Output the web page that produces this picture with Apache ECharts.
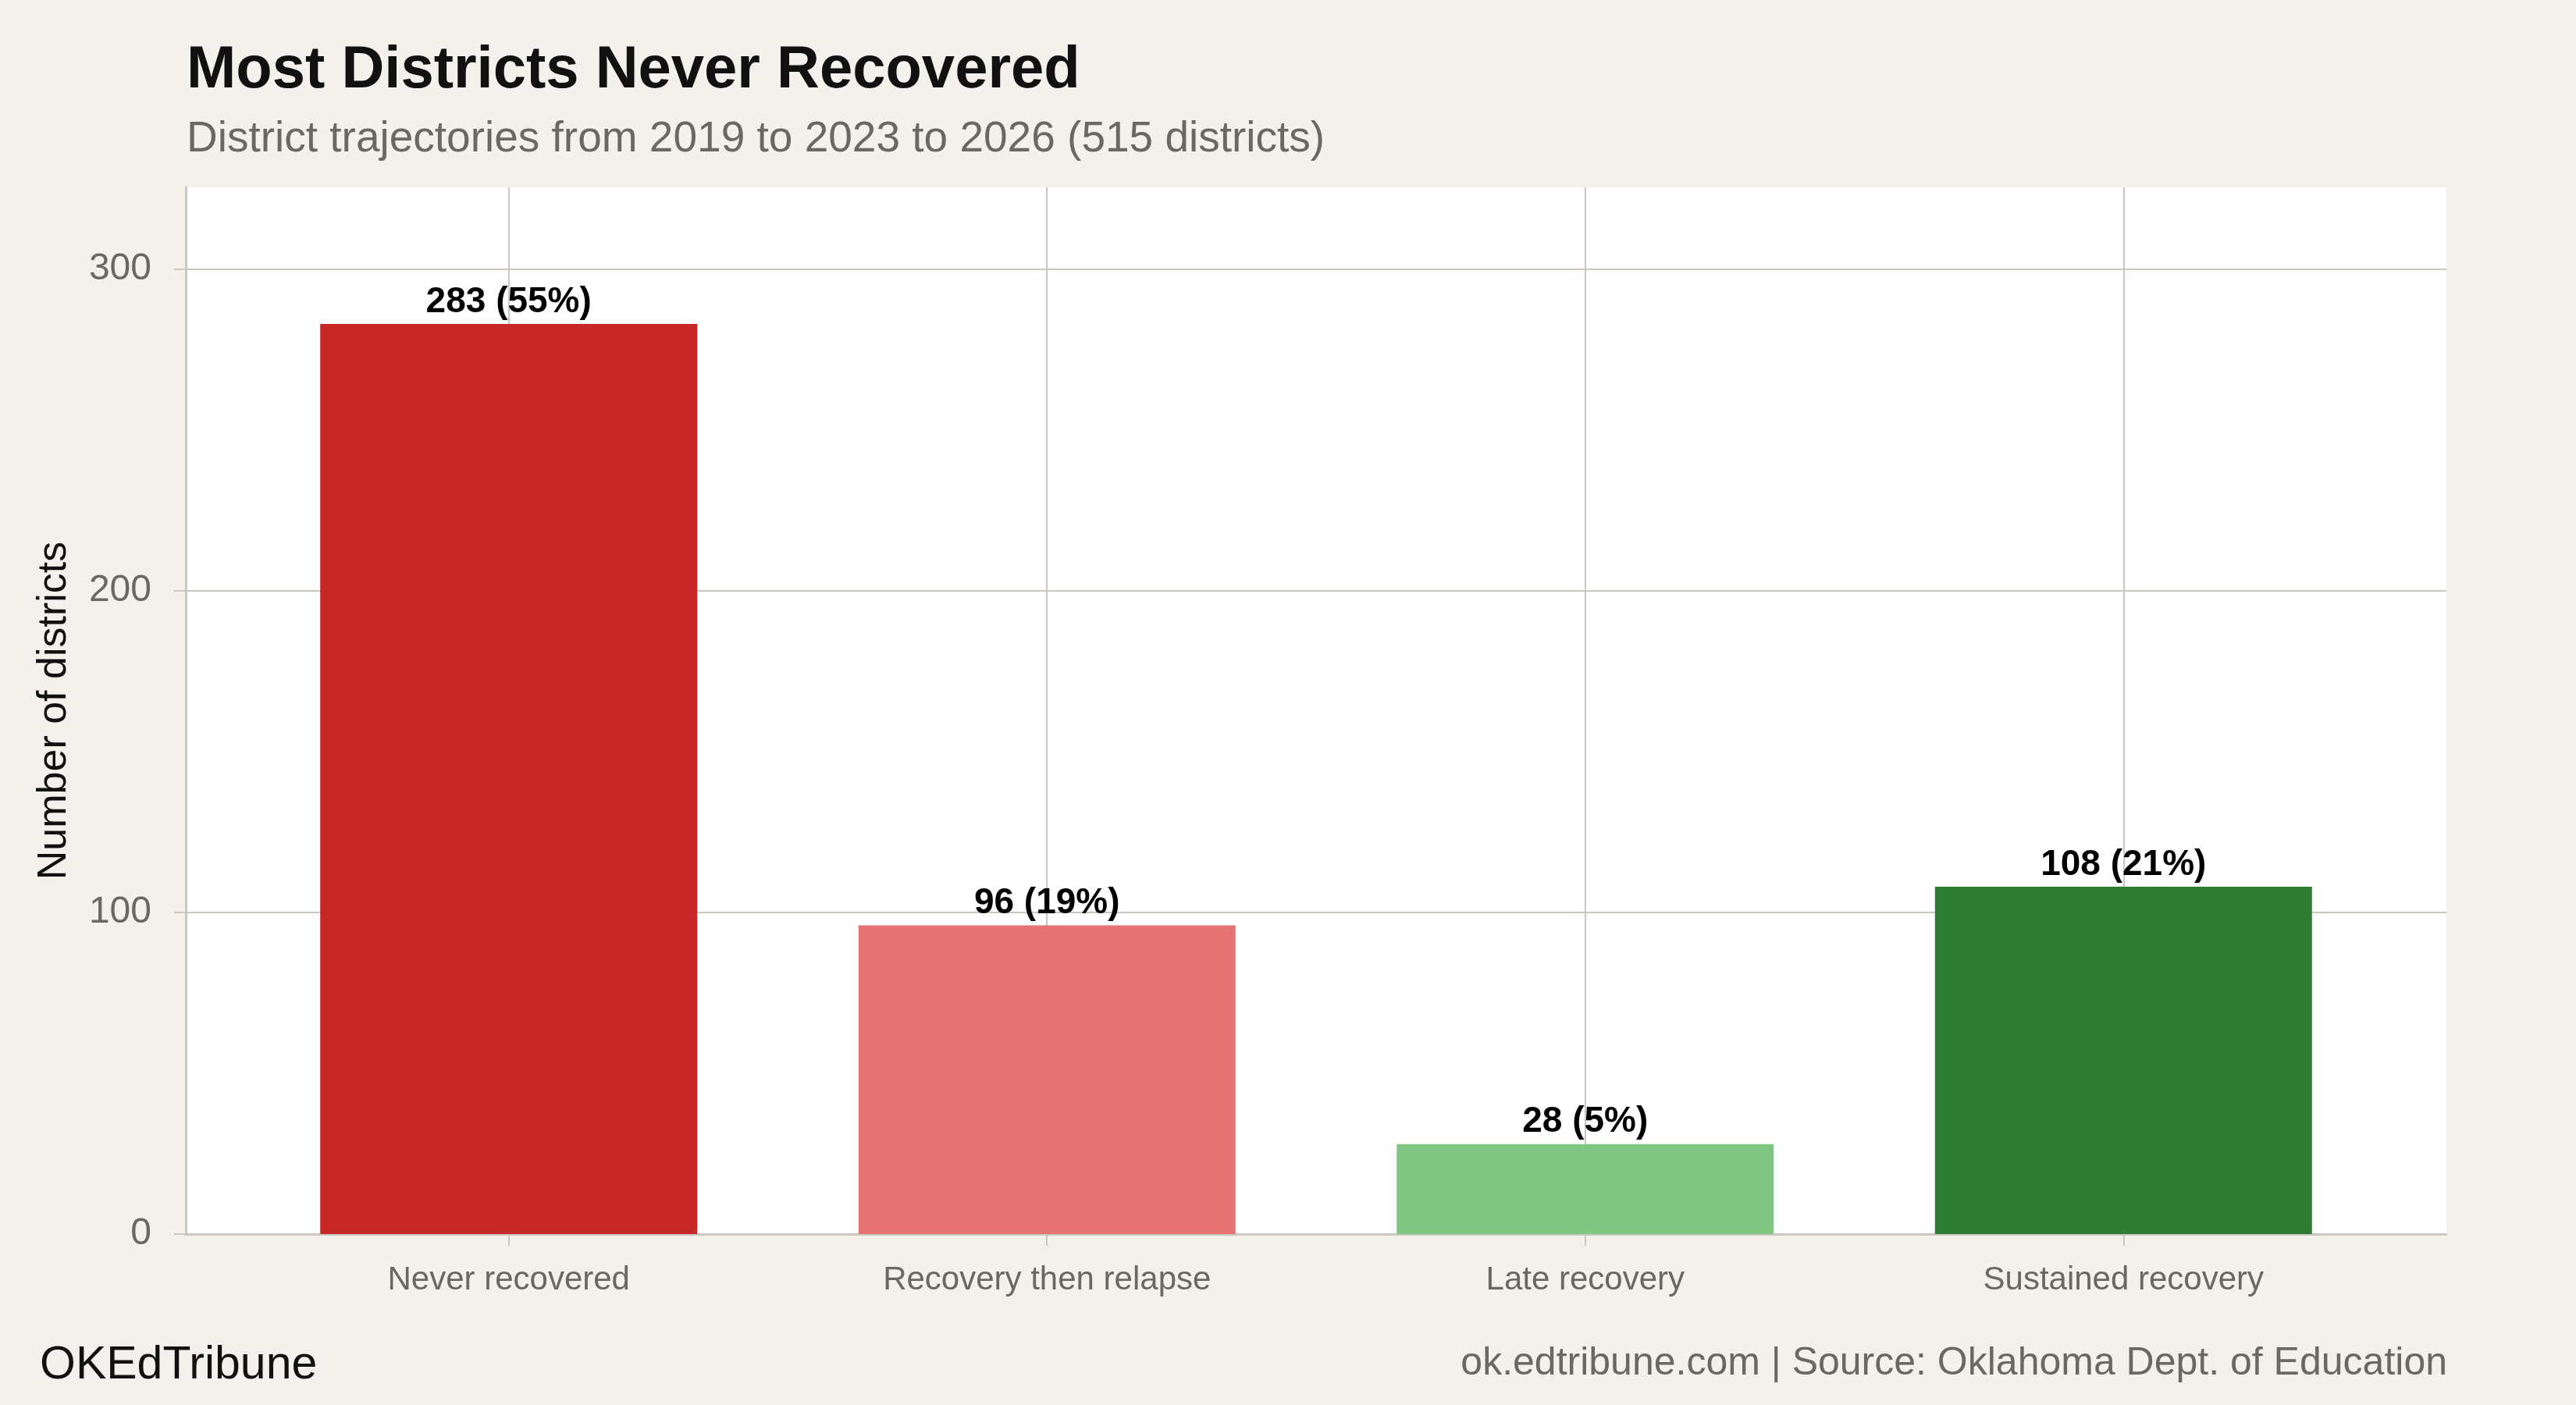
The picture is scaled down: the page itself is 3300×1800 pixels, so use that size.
<!DOCTYPE html>
<html>
<head>
<meta charset="utf-8">
<script src="https://cdn.jsdelivr.net/npm/echarts@6/dist/echarts.min.js"></script>
<style>
html,body{margin:0;padding:0;background:#F4F1EC;}
#chart{width:3300px;height:1800px;}
</style>
</head>
<body>
<div id="chart"></div>
<script>
const categories = ['Never recovered', 'Recovery then relapse', 'Late recovery', 'Sustained recovery'];
const counts = [283, 96, 28, 108];
const percents = [55, 19, 5, 21];
const barColors = ['#C62828', '#E57373', '#81C784', '#2E7D32'];
const yTicks = [0, 100, 200, 300];

const FONT = '"Liberation Sans", Arial, Helvetica, sans-serif';
const GRID_COLOR = '#CCC7BE';

const chart = echarts.init(document.getElementById('chart'), null, {renderer: 'canvas'});

const positions = categories.map((c, i) => i + 1);
const seriesData = counts.map((v, i) => ({
  value: [positions[i], v],
  itemStyle: {color: barColors[i]},
  label: {formatter: v + ' (' + percents[i] + '%)'}
}));

const option = {
  backgroundColor: '#F4F1EC',
  animation: false,
  title: [
    {
      text: 'Most Districts Never Recovered',
      subtext: 'District trajectories from 2019 to 2023 to 2026 (515 districts)',
      left: 234,
      top: 48,
      itemGap: 22,
      textStyle: {fontFamily: FONT, fontSize: 76, fontWeight: 'bold', color: '#111111'},
      subtextStyle: {fontFamily: FONT, fontSize: 55, color: '#6B6761'}
    },
    {
      text: 'OKEdTribune',
      left: 46,
      top: 1715,
      textStyle: {fontFamily: FONT, fontSize: 59, fontWeight: 'normal', color: '#111111'}
    },
    {
      text: 'ok.edtribune.com | Source: Oklahoma Dept. of Education',
      right: 160,
      top: 1717,
      textStyle: {fontFamily: FONT, fontSize: 50, fontWeight: 'normal', color: '#6B6761'}
    }
  ],
  grid: {
    left: 238, top: 240, width: 2896, height: 1341,
    show: true, backgroundColor: '#FFFFFF', borderWidth: 0,
    containLabel: false
  },
  xAxis: {
    type: 'value',
    min: 0.4,
    max: 4.6,
    axisLine: {show: true, onZero: false, lineStyle: {color: GRID_COLOR, width: 3}},
    axisTick: {show: true, customValues: positions, length: 15, lineStyle: {color: GRID_COLOR, width: 2}},
    axisLabel: {
      customValues: positions,
      margin: 38,
      fontFamily: FONT, fontSize: 42, color: '#6B6761',
      formatter: v => categories[Math.round(v) - 1] || ''
    },
    splitLine: {show: true, lineStyle: {color: GRID_COLOR, width: 2}}
  },
  yAxis: {
    type: 'value',
    min: 0,
    max: 283 * 1.15,
    interval: 100,
    name: 'Number of districts',
    nameLocation: 'middle',
    nameRotate: 90,
    nameGap: 142,
    nameTextStyle: {fontFamily: FONT, fontSize: 52, color: '#111111'},
    axisLine: {show: true, lineStyle: {color: GRID_COLOR, width: 3}},
    axisTick: {show: true, length: 15, lineStyle: {color: GRID_COLOR, width: 2}},
    axisLabel: {
      margin: 44, fontFamily: FONT, fontSize: 48, color: '#6B6761',
      showMaxLabel: false,
      formatter: v => (yTicks.indexOf(v) >= 0 ? String(v) : '')
    },
    splitLine: {show: true, showMaxLine: false, lineStyle: {color: GRID_COLOR, width: 2}}
  },
  series: [{
    type: 'bar',
    data: seriesData,
    barWidth: 483,
    label: {
      show: true, position: 'top', distance: 5,
      fontFamily: FONT, fontSize: 46, fontWeight: 'bold', color: '#000000'
    }
  }]
};
chart.setOption(option);
</script>
</body>
</html>
